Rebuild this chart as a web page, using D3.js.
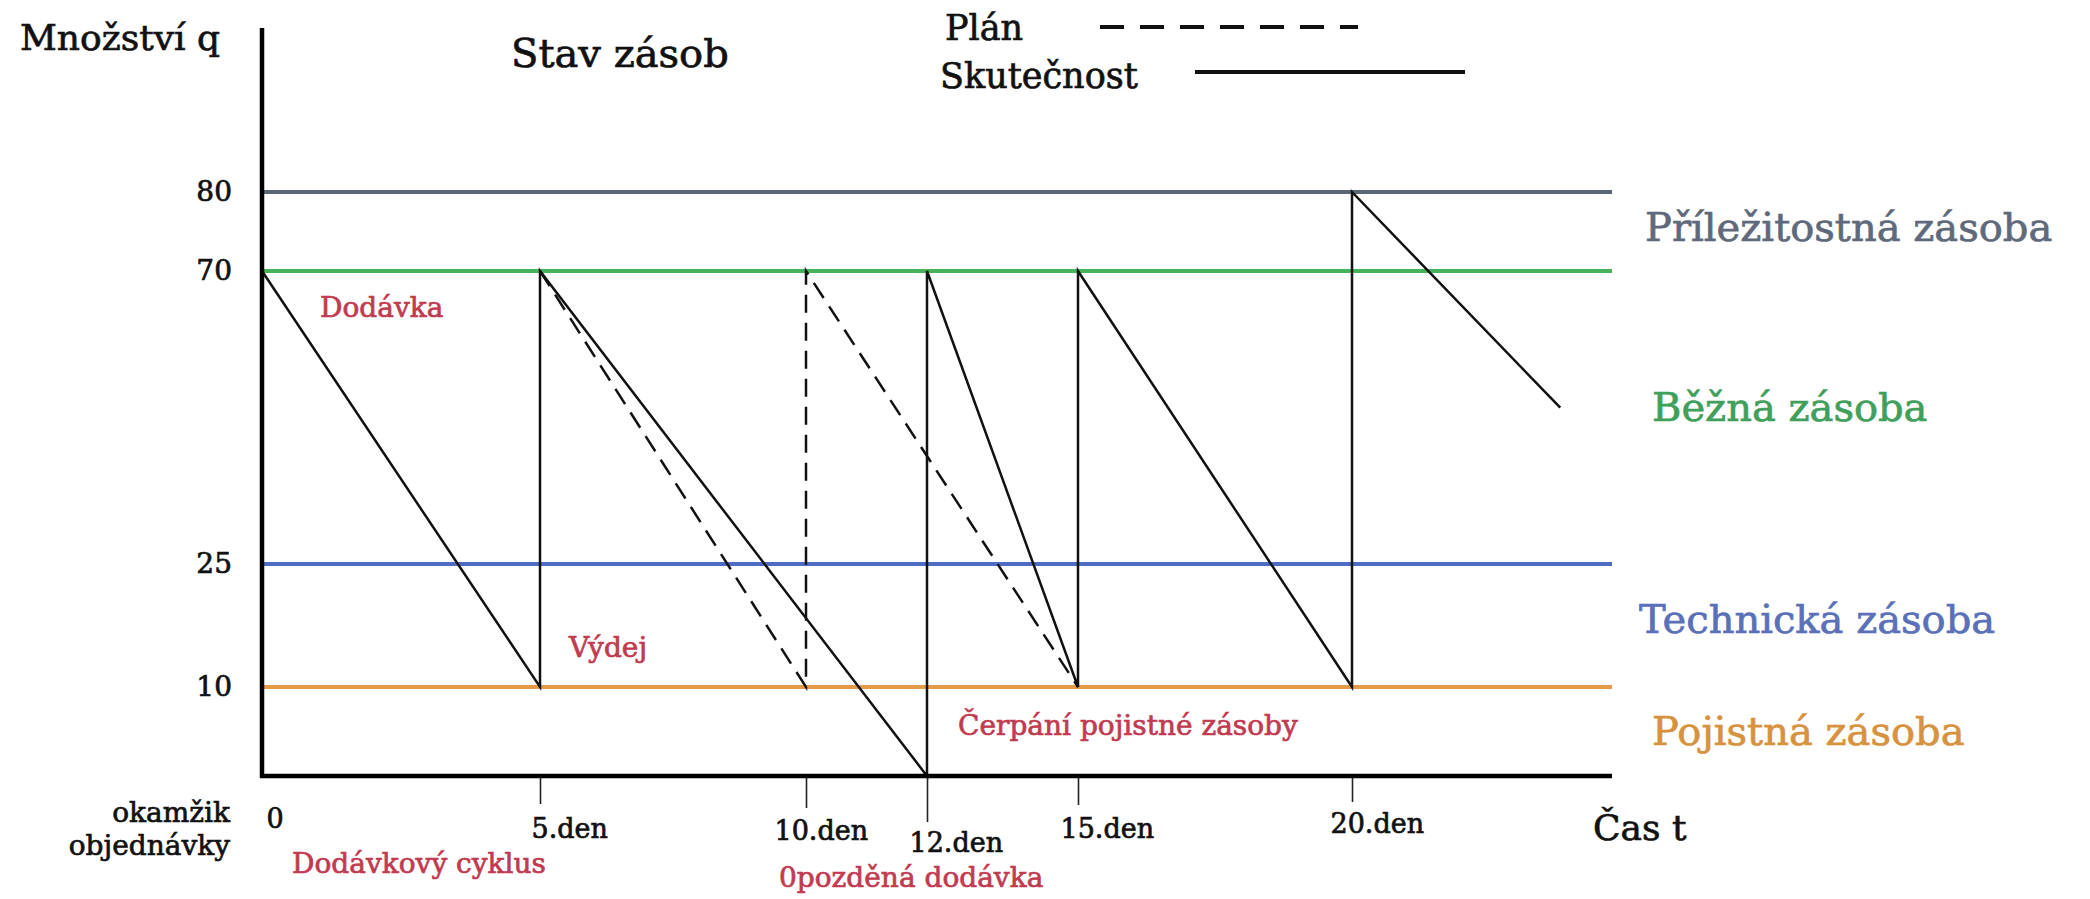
<!DOCTYPE html>
<html>
<head>
<meta charset="utf-8">
<script src="https://cdn.jsdelivr.net/npm/d3@7"></script>
<style>
  body { margin: 0; background: #fff; }
  svg { display: block; }
  text { paint-order: stroke; stroke-width: 0.7px; }
</style>
</head>
<body>
<div id="chart"></div>
<script>
// days on the time axis and their labels
const dayTicks = [0, 5, 10, 12, 15, 20];
const dayLabels = ["0", "5.den", "10.den", "12.den", "15.den", "20.den"];

// stock levels (horizontal lines)
const levelValues = [80, 70, 25, 10];
const levelNames = ["Příležitostná zásoba", "Běžná zásoba", "Technická zásoba", "Pojistná zásoba"];
const levelColors = ["#5b6779", "#46b35b", "#4d6cc2", "#e39b47"];
const levelTextColors = ["#5e6a7b", "#3f9f5b", "#5a70b8", "#d7923d"];

// actual stock (Skutečnost)
const actualDays = [0, 5, 5, 12, 12, 15, 15, 20, 20, 23.8];
const actualQty = [70, 10, 70, 0, 70, 10, 70, 10, 80, 49];

// planned stock (Plán)
const planDays = [5, 10, 10, 15];
const planQty = [70, 10, 70, 10];

const width = 2090, height = 899;
const serif = "'DejaVu Serif', serif";
const red = "#c23a50";

// the drawing is not to scale, so both scales are piecewise
const x = d3.scaleLinear()
    .domain(dayTicks)
    .range([262, 540, 806, 927, 1078, 1352]);
const y = d3.scaleLinear()
    .domain([0, 10, 25, 70, 80])
    .range([776, 687, 564, 271, 192]);

const axisTop = 28;
const lineEnd = 1612;

const svg = d3.select("#chart").append("svg")
    .attr("width", width)
    .attr("height", height)
    .attr("viewBox", [0, 0, width, height])
    .style("font-family", serif);

// level lines
svg.append("g")
    .selectAll("line")
    .data(levelValues)
    .join("line")
    .attr("x1", x(0))
    .attr("x2", lineEnd)
    .attr("y1", d => y(d))
    .attr("y2", d => y(d))
    .attr("stroke", (d, i) => levelColors[i])
    .attr("stroke-width", 4);

// level names on the right
svg.append("g")
    .selectAll("text")
    .data(levelNames)
    .join("text")
    .attr("x", (d, i) => [1645, 1652, 1639, 1652][i])
    .attr("y", (d, i) => [241, 421, 633, 745][i])
    .attr("fill", (d, i) => levelTextColors[i])
    .attr("stroke", (d, i) => levelTextColors[i])
    .attr("font-size", 40)
    .text(d => d);

// series
const actual = actualDays.map((d, i) => [d, actualQty[i]]);
const plan = planDays.map((d, i) => [d, planQty[i]]);
const line = d3.line().x(d => x(d[0])).y(d => y(d[1]));

svg.append("path")
    .datum(plan)
    .attr("d", line)
    .attr("fill", "none")
    .attr("stroke", "#111")
    .attr("stroke-width", 2.5)
    .attr("stroke-dasharray", "18,10");

svg.append("path")
    .datum(actual)
    .attr("d", line)
    .attr("fill", "none")
    .attr("stroke", "#111")
    .attr("stroke-width", 2.5)
    .attr("stroke-linejoin", "miter");

// y axis
const yAxis = svg.append("g")
    .attr("transform", `translate(${x(0)},0)`)
    .call(d3.axisLeft(y).tickValues(levelValues).tickSize(0).tickPadding(30).tickFormat(d3.format("d")));
yAxis.select(".domain").remove();
yAxis.selectAll("text")
    .attr("font-family", serif)
    .attr("font-size", 28)
    .attr("fill", "#111")
    .attr("stroke", "#111");

// x axis
const tickLen = [0, 28, 32, 46, 29, 26];
const labelDx = [4, -9, -32, -18, -18, -22];
const labelDy = [52, 62, 64, 76, 62, 57];

const xAxis = svg.append("g")
    .attr("transform", `translate(0,${y(0)})`)
    .call(d3.axisBottom(x).tickValues(dayTicks).tickSize(28).tickFormat((d, i) => dayLabels[i]));
xAxis.select(".domain").remove();
xAxis.selectAll(".tick line")
    .attr("y2", (d, i) => tickLen[i])
    .attr("stroke", "#222")
    .attr("stroke-width", 1.6);
xAxis.selectAll(".tick text")
    .attr("text-anchor", "start")
    .attr("x", (d, i) => labelDx[i])
    .attr("y", (d, i) => labelDy[i])
    .attr("dy", null)
    .attr("font-family", serif)
    .attr("font-size", 27)
    .attr("fill", "#111")
    .attr("stroke", "#111");

// axis lines
svg.append("line")
    .attr("x1", x(0)).attr("x2", x(0))
    .attr("y1", axisTop).attr("y2", y(0) + 2)
    .attr("stroke", "#000").attr("stroke-width", 4.5);
svg.append("line")
    .attr("x1", x(0) - 2).attr("x2", lineEnd)
    .attr("y1", y(0)).attr("y2", y(0))
    .attr("stroke", "#000").attr("stroke-width", 4.5);

// titles and black labels
const blackText = [
    ["Množství q", 20, 50, 36, "start"],
    ["Stav zásob", 511, 67, 40, "start"],
    ["Čas t", 1593, 840, 36, "start"],
    ["okamžik", 230, 822, 28, "end"],
    ["objednávky", 230, 855, 28, "end"],
    ["Plán", 945, 40, 35, "start"],
    ["Skutečnost", 940, 88, 35, "start"]
];
svg.append("g")
    .selectAll("text")
    .data(blackText)
    .join("text")
    .attr("x", d => d[1])
    .attr("y", d => d[2])
    .attr("font-size", d => d[3])
    .attr("text-anchor", d => d[4])
    .attr("fill", "#111")
    .attr("stroke", "#111")
    .text(d => d[0]);

// legend lines
svg.append("line")
    .attr("x1", 1100).attr("x2", 1358).attr("y1", 27).attr("y2", 27)
    .attr("stroke", "#111").attr("stroke-width", 4).attr("stroke-dasharray", "24,16");
svg.append("line")
    .attr("x1", 1195).attr("x2", 1465).attr("y1", 72).attr("y2", 72)
    .attr("stroke", "#111").attr("stroke-width", 4);

// red notes
const notes = [
    ["Dodávka", 320, 317],
    ["Výdej", 569, 657],
    ["Čerpání pojistné zásoby", 958, 735],
    ["Dodávkový cyklus", 292, 873],
    ["0pozděná dodávka", 779, 887]
];
svg.append("g")
    .selectAll("text")
    .data(notes)
    .join("text")
    .attr("x", d => d[1])
    .attr("y", d => d[2])
    .attr("fill", red)
    .attr("stroke", red)
    .attr("font-size", 28)
    .text(d => d[0]);
</script>
</body>
</html>
